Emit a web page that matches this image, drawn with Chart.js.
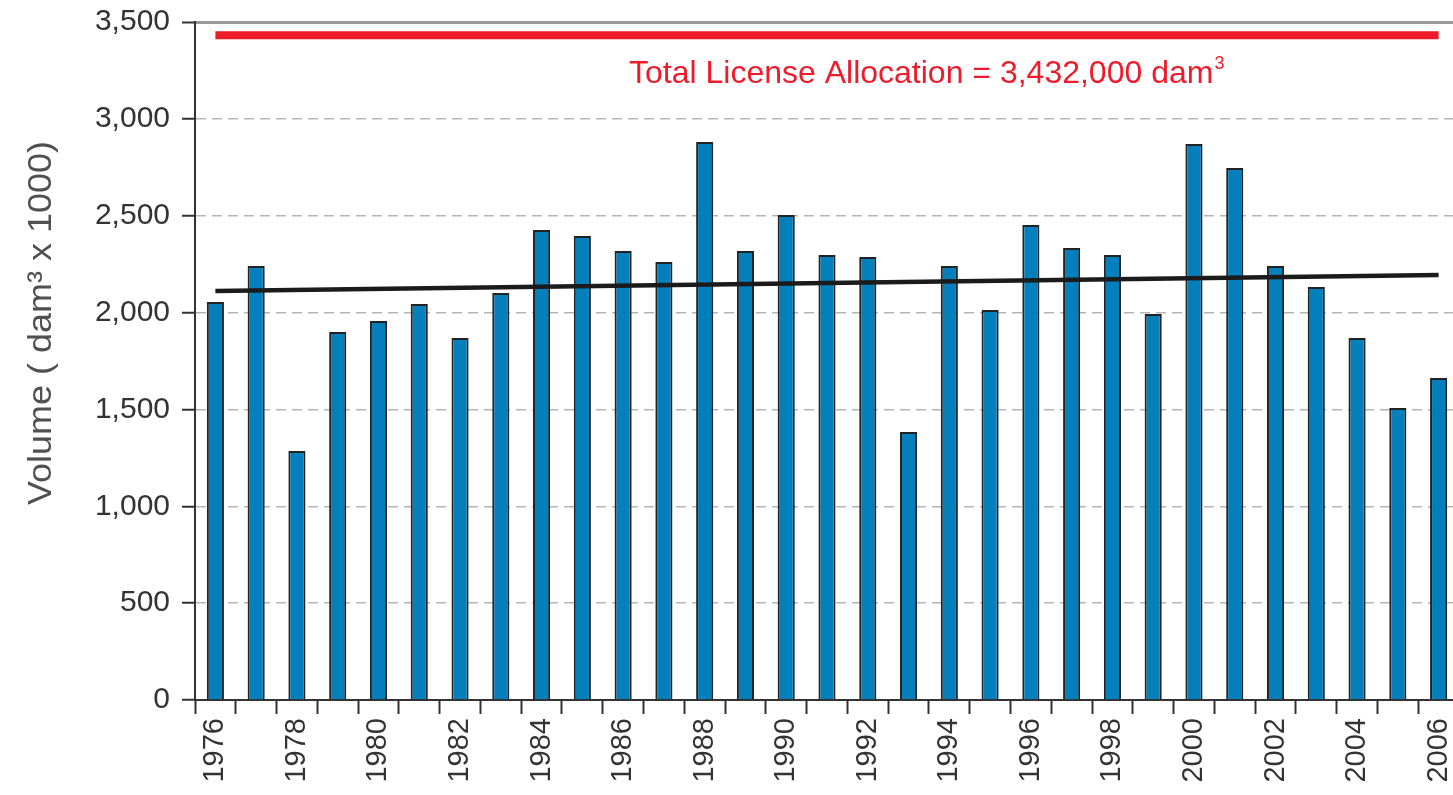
<!DOCTYPE html>
<html>
<head>
<meta charset="utf-8">
<script src="https://cdn.jsdelivr.net/npm/chart.js@4"></script>
<style>
  html, body { margin: 0; padding: 0; background: #fff; overflow: hidden; }
  #wrap { position: absolute; left: 0; top: 0; width: 1470px; height: 795px; }
</style>
</head>
<body>
<div id="wrap"><canvas id="chart" width="1470" height="795"></canvas></div>
<script>
// years on the x axis
var years = ["1976", "1977", "1978", "1979", "1980", "1981", "1982", "1983", "1984", "1985",
             "1986", "1987", "1988", "1989", "1990", "1991", "1992", "1993", "1994", "1995",
             "1996", "1997", "1998", "1999", "2000", "2001", "2002", "2003", "2004", "2005", "2006"];

// annual volume (dam3 x 1000)
var volumes = [2055, 2240, 1285, 1900, 1957, 2044, 1869, 2101, 2426, 2395,
               2318, 2261, 2881, 2318, 2504, 2297, 2287, 1384, 2240, 2013,
               2452, 2333, 2297, 1993, 2870, 2746, 2240, 2132, 1869, 1507, 1662];

// licence allocation line and trend line end points
var allocation = [{x: "1976", y: 3432}, {x: "2006", y: 3432}];
var trend = [{x: "1976", y: 2111}, {x: "2006", y: 2194}];

var yTicks = [0, 500, 1000, 1500, 2000, 2500, 3000, 3500];

var fontFamily = "'Liberation Sans', Arial, Helvetica, sans-serif";

var textPlugin = {
    id: "texts",
    afterDraw: function(chart) {
        var ctx = chart.ctx;
        ctx.save();
        // allocation label, with a raised small 3
        ctx.fillStyle = "#ee1c2b";
        ctx.font = "32px " + fontFamily;
        ctx.textBaseline = "alphabetic";
        ctx.textAlign = "left";
        var label = "Total License Allocation = 3,432,000 dam";
        ctx.fillText(label, 629, 83);
        var w = ctx.measureText(label).width;
        ctx.font = "18px " + fontFamily;
        ctx.fillText("3", 629 + w + 1, 69);
        // y axis title
        ctx.translate(51, 323);
        ctx.rotate(-Math.PI / 2);
        ctx.scale(1.09, 1);
        ctx.fillStyle = "#505050";
        ctx.font = "33px " + fontFamily;
        ctx.textAlign = "center";
        ctx.fillText("Volume ( dam\u00b3 x 1000)", 0, 0);
        ctx.restore();
    }
};

var ctx = document.getElementById("chart").getContext("2d");
var myChart = new Chart(ctx, {
    type: "bar",
    data: {
        labels: years,
        datasets: [
            {
                type: "line",
                data: allocation,
                borderColor: "#ee1c2b",
                borderWidth: 8,
                pointRadius: 0,
                fill: false,
                order: 1
            },
            {
                type: "line",
                data: trend,
                borderColor: "#1b1b1b",
                borderWidth: 4.5,
                pointRadius: 0,
                fill: false,
                order: 0
            },
            {
                data: volumes,
                backgroundColor: "#037fbc",
                borderColor: "#222",
                borderWidth: 2,
                categoryPercentage: 1,
                barPercentage: 0.42,
                order: 2
            }
        ]
    },
    options: {
        responsive: false,
        animation: false,
        events: [],
        layout: { padding: { left: 0, right: 11, top: 22, bottom: 0 } },
        plugins: {
            legend: { display: false },
            tooltip: { enabled: false }
        },
        scales: {
            x: {
                offset: true,
                grid: {
                    offset: true,
                    drawOnChartArea: false,
                    drawTicks: true,
                    tickLength: 14,
                    tickColor: "#333",
                    tickWidth: 2
                },
                border: { display: true, color: "#333", width: 2 },
                ticks: {
                    autoSkip: false,
                    maxRotation: 90,
                    minRotation: 90,
                    padding: 4,
                    color: "#333",
                    font: { family: fontFamily, size: 29 },
                    callback: function(val, i) { return i % 2 === 0 ? years[i] : ""; }
                },
                afterFit: function(scale) {
                    scale.height = 95;
                    scale.paddingLeft = 0;
                    scale.paddingRight = 0;
                }
            },
            y: {
                min: 0,
                max: 3500,
                afterBuildTicks: function(scale) {
                    scale.ticks = yTicks.map(function(v) { return {value: v}; });
                },
                grid: {
                    color: function(c) { return c.tick && c.tick.value === 3500 ? "#9a9a9a" : "#b5b5b5"; },
                    lineWidth: function(c) { return c.tick && c.tick.value === 3500 ? 3 : 1.5; },
                    drawTicks: true,
                    tickLength: 13,
                    tickColor: "#333",
                    tickWidth: 2
                },
                border: {
                    display: true,
                    color: "#333",
                    width: 2,
                    dash: function(c) { return c.tick && c.tick.value === 3500 ? [] : [10, 6]; }
                },
                ticks: {
                    padding: 12,
                    color: "#333",
                    font: { family: fontFamily, size: 30 },
                    callback: function(v) { return Number(v).toLocaleString("en-US"); }
                },
                afterFit: function(scale) {
                    scale.width = 195;
                    scale.paddingTop = 0;
                    scale.paddingBottom = 0;
                }
            }
        }
    },
    plugins: [textPlugin]
});
</script>
</body>
</html>
